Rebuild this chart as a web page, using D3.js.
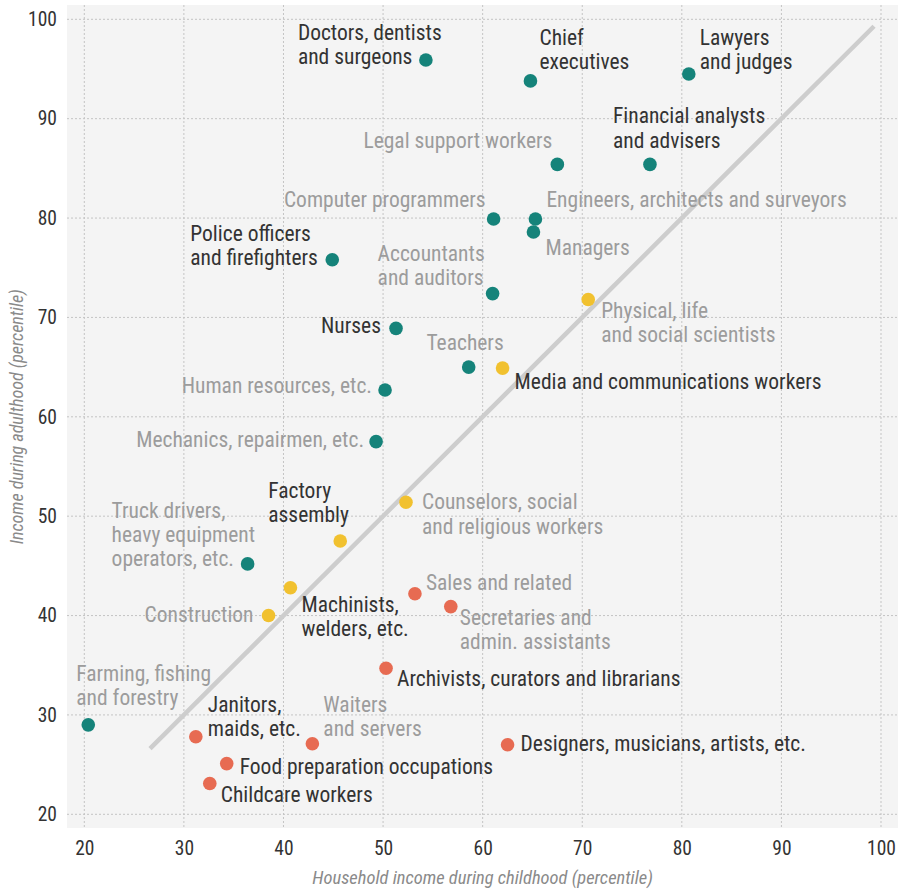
<!DOCTYPE html>
<html>
<head>
<meta charset="utf-8">
<script src="https://cdn.jsdelivr.net/npm/d3@7"></script>
<style>
  body { margin: 0; background: #fff; }
  svg text { font-family: "Liberation Sans Narrow", "Arial Narrow", "Roboto Condensed", sans-serif; }
</style>
</head>
<body>
<div id="chart"></div>
<script>
// occupations
const occupations = [
  "Doctors, dentists\nand surgeons", "Chief\nexecutives", "Lawyers\nand judges",
  "Financial analysts\nand advisers", "Legal support workers", "Computer programmers",
  "Engineers, architects and surveyors", "Managers", "Accountants\nand auditors",
  "Police officers\nand firefighters", "Physical, life\nand social scientists", "Nurses",
  "Teachers", "Media and communications workers", "Human resources, etc.",
  "Mechanics, repairmen, etc.", "Counselors, social\nand religious workers", "Factory\nassembly",
  "Truck drivers,\nheavy equipment\noperators, etc.", "Machinists,\nwelders, etc.", "Construction",
  "Sales and related", "Secretaries and\nadmin. assistants", "Archivists, curators and librarians",
  "Farming, fishing\nand forestry", "Janitors,\nmaids, etc.", "Waiters\nand servers",
  "Food preparation occupations", "Childcare workers", "Designers, musicians, artists, etc."
];

// household income during childhood (percentile)
const childhood = [54.3, 64.8, 80.7, 76.8, 67.5, 61.1, 65.3, 65.1, 61.0, 44.9, 70.6, 51.3, 58.6, 62.0, 50.2,
  49.3, 52.3, 45.7, 36.4, 40.7, 38.5, 53.2, 56.8, 50.3, 20.4, 31.2, 42.9, 34.3, 32.6, 62.5];

// income during adulthood (percentile)
const adulthood = [95.9, 93.8, 94.5, 85.4, 85.4, 79.9, 79.9, 78.6, 72.4, 75.8, 71.8, 68.9, 65.0, 64.9, 62.7,
  57.5, 51.4, 47.5, 45.2, 42.8, 40.0, 42.2, 40.9, 34.7, 29.0, 27.8, 27.1, 25.1, 23.1, 27.0];

// colour group: above, along or below the diagonal
const group = ["up", "up", "up", "up", "up", "up", "up", "up", "up", "up", "flat", "up", "up", "flat", "up",
  "up", "flat", "flat", "up", "flat", "flat", "down", "down", "down", "up", "down", "down", "down", "down", "down"];

const xTicks = [20, 30, 40, 50, 60, 70, 80, 90, 100];
const yTicks = [20, 30, 40, 50, 60, 70, 80, 90, 100];
const diagonal = [26.6, 99.3];

// label placement: offset from the dot in px, anchor and tone
const labelLayout = [
  [-128, -20, "start", "dark"], [9, -36, "start", "dark"], [11, -29, "start", "dark"],
  [-37, -41, "start", "dark"], [-5, -16, "end", "light"], [-8, -12, "end", "light"],
  [11, -12, "start", "light"], [12, 23, "start", "light"], [-115, -33, "start", "light"],
  [-142, -19, "start", "dark"], [13, 18, "start", "light"], [-15, 5, "end", "dark"],
  [35, -17, "end", "light"], [12, 21, "start", "dark"], [-13, 3, "end", "light"],
  [-12, 5, "end", "light"], [16, 7, "start", "light"], [-72, -43, "start", "dark"],
  [-136, -46, "start", "light"], [11, 24, "start", "dark"], [-15, 6, "end", "light"],
  [11, -4, "start", "light"], [9, 18, "start", "light"], [11, 18, "start", "dark"],
  [-12, -44, "start", "light"], [12, -25, "start", "dark"], [11, -32, "start", "light"],
  [13, 10, "start", "dark"], [11, 19, "start", "dark"], [13, 6, "start", "dark"]
];

const width = 898, height = 890;
const color = d3.scaleOrdinal().domain(["up", "flat", "down"]).range(["#15837a", "#f1c12f", "#e76b52"]);
const tone = { dark: "#333", light: "#9c9c9c" };

const x = d3.scaleLinear().domain([20, 100]).range([84.3, 881]);
const y = d3.scaleLinear().domain([20, 100]).range([814.3, 19.3]);

const panel = { left: 67, top: 5, right: 898, bottom: 828 };

const svg = d3.select("#chart")
  .append("svg")
  .attr("width", width)
  .attr("height", height);

// grey plotting panel
svg.append("rect")
  .attr("x", panel.left)
  .attr("y", panel.top)
  .attr("width", panel.right - panel.left)
  .attr("height", panel.bottom - panel.top)
  .attr("fill", "#f4f4f4");

// dotted grid
svg.append("g")
  .selectAll("line")
  .data(xTicks)
  .join("line")
  .attr("x1", d => x(d)).attr("x2", d => x(d))
  .attr("y1", panel.top).attr("y2", panel.bottom)
  .attr("stroke", "#c4c4c4")
  .attr("stroke-width", 1)
  .attr("stroke-dasharray", "2,2");

svg.append("g")
  .selectAll("line")
  .data(yTicks)
  .join("line")
  .attr("x1", panel.left).attr("x2", panel.right)
  .attr("y1", d => y(d)).attr("y2", d => y(d))
  .attr("stroke", "#c4c4c4")
  .attr("stroke-width", 1)
  .attr("stroke-dasharray", "2,2");

// axes, labels only
const xAxis = svg.append("g")
  .attr("transform", `translate(0, ${panel.bottom})`)
  .call(d3.axisBottom(x).tickValues(xTicks).tickSize(0).tickPadding(13));
const yAxis = svg.append("g")
  .attr("transform", `translate(${panel.left}, 0)`)
  .call(d3.axisLeft(y).tickValues(yTicks).tickSize(0).tickPadding(10));

[xAxis, yAxis].forEach(a => {
  a.select(".domain").remove();
  a.selectAll("text")
    .attr("fill", "#333")
    .style("font-size", "19.5px");
});

// axis titles
svg.append("text")
  .attr("x", (x(20) + x(100)) / 2)
  .attr("y", 884)
  .attr("text-anchor", "middle")
  .attr("fill", "#8a8a8a")
  .style("font-size", "18.5px")
  .style("font-style", "italic")
  .text("Household income during childhood (percentile)");

svg.append("text")
  .attr("transform", `translate(23, ${(y(20) + y(100)) / 2}) rotate(-90)`)
  .attr("text-anchor", "middle")
  .attr("fill", "#8a8a8a")
  .style("font-size", "18px")
  .style("font-style", "italic")
  .text("Income during adulthood (percentile)");

// equal-income diagonal
svg.append("line")
  .attr("x1", x(diagonal[0])).attr("y1", y(diagonal[0]))
  .attr("x2", x(diagonal[1])).attr("y2", y(diagonal[1]))
  .attr("stroke", "#cdcdcd")
  .attr("stroke-width", 4.5);

const points = occupations.map((name, i) => ({
  name, cx: childhood[i], cy: adulthood[i], group: group[i], layout: labelLayout[i]
}));

// dots
svg.append("g")
  .selectAll("circle")
  .data(points)
  .join("circle")
  .attr("cx", d => x(d.cx))
  .attr("cy", d => y(d.cy))
  .attr("r", 6.8)
  .attr("fill", d => color(d.group));

// labels
const lineHeight = 24.3;
const labels = svg.append("g")
  .selectAll("text")
  .data(points)
  .join("text")
  .attr("x", d => x(d.cx) + d.layout[0])
  .attr("y", d => y(d.cy) + d.layout[1])
  .attr("text-anchor", d => d.layout[2])
  .attr("fill", d => tone[d.layout[3]])
  .style("font-size", "21.5px");

labels.selectAll("tspan")
  .data(d => d.name.split("\n").map((t, j) => ({ t, j, x: x(d.cx) + d.layout[0] })))
  .join("tspan")
  .attr("x", d => d.x)
  .attr("dy", d => d.j === 0 ? 0 : lineHeight)
  .text(d => d.t);
</script>
</body>
</html>
